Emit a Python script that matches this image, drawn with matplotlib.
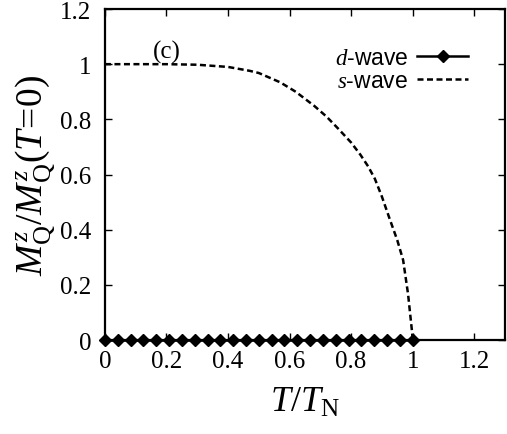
import numpy as np
import matplotlib
matplotlib.use('Agg')
import matplotlib.pyplot as plt

plt.rcParams['font.family'] = 'Liberation Serif'
plt.rcParams['mathtext.fontset'] = 'custom'
plt.rcParams['mathtext.rm'] = 'Liberation Serif'
plt.rcParams['mathtext.it'] = 'Liberation Serif:italic'
plt.rcParams['mathtext.bf'] = 'Liberation Serif:bold'

# d-wave: zero for all temperatures (25 points from 0 to 1)
d_t = [i / 24 for i in range(25)]
d_m = [0.0] * 25

# s-wave
s_t = [0.0, 0.1, 0.2, 0.3, 0.4, 0.47, 0.5, 0.57, 0.62, 0.68, 0.72, 0.76,
       0.8, 0.83, 0.855, 0.877, 0.9, 0.925, 0.95, 0.969, 0.985, 0.998, 1.0]
s_m = [1.0, 1.0, 1.0, 0.998, 0.99, 0.976, 0.968, 0.934, 0.90, 0.849, 0.81,
       0.764, 0.716, 0.672, 0.63, 0.585, 0.52, 0.44, 0.362, 0.29, 0.167,
       0.03, 0.0]

xticks = [0, 0.2, 0.4, 0.6, 0.8, 1, 1.2]
xtick_labels = ['0', '0.2', '0.4', '0.6', '0.8', '1', '1.2']
yticks = [0, 0.2, 0.4, 0.6, 0.8, 1, 1.2]
ytick_labels = ['0', '0.2', '0.4', '0.6', '0.8', '1', '1.2']

dash = (0, (2.4, 1.4))

fig = plt.figure(figsize=(5.07, 4.35), dpi=100)
ax = fig.add_axes([0.207, 0.216, 0.789, 0.761])

ax.plot(d_t, d_m, color='black', lw=1.8, marker='D', ms=6.5, clip_on=False,
        zorder=5)
ax.plot(s_t, s_m, color='black', lw=1.8, ls=dash)

ax.set_xlim(0, 1.3)
ax.set_ylim(0, 1.2)
ax.set_xticks(xticks)
ax.set_xticklabels(xtick_labels)
ax.set_yticks(yticks)
ax.set_yticklabels(ytick_labels)
ax.tick_params(direction='in', top=True, right=True, length=5, width=1,
               labelsize=18)
ax.tick_params(axis='y', pad=10)
ax.tick_params(axis='x', pad=7)
for s in ax.spines.values():
    s.set_linewidth(1.6)

ax.set_xlabel(r'$T/T_{\rm N}$', fontsize=26, labelpad=10)
ax.set_ylabel(r'$M_{\rm Q}^{z}/M_{\rm Q}^{z}(T\!=\!0)$', fontsize=27, labelpad=2)

ax.text(0.2, 1.005, '(c)', fontsize=18, ha='center', va='bottom')

h1, = ax.plot([], [], color='black', lw=1.8, marker='D', ms=6)
h2, = ax.plot([], [], color='black', lw=1.8, ls=dash)
leg = ax.legend([h1, h2],
                [r'$d$' + '-wave', r'$s$' + '-wave'],
                loc='upper right', bbox_to_anchor=(0.93, 0.915),
                markerfirst=False, frameon=False, handlelength=2.2,
                handletextpad=0.4, labelspacing=0.0, borderaxespad=0,
                prop={'family': 'Liberation Sans', 'size': 16.5})

fig.savefig('out.png', dpi=100)
